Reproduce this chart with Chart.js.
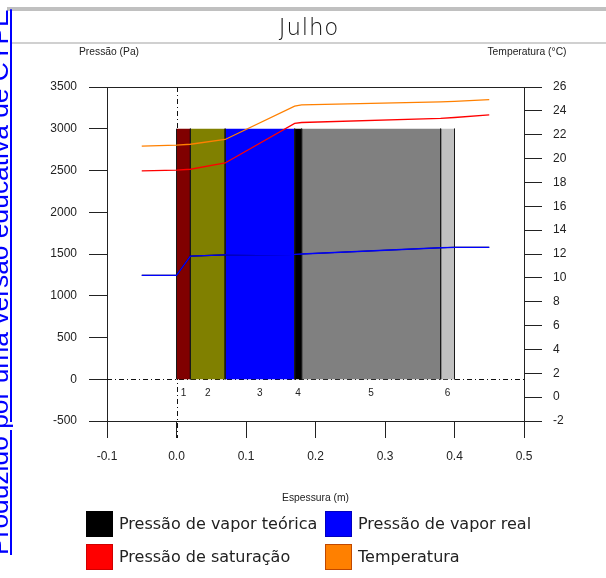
<!DOCTYPE html>
<html lang="pt">
<head>
<meta charset="UTF-8">
<title>Julho</title>
<script src="https://cdn.jsdelivr.net/npm/chart.js"></script>
<style>
    body {
        margin: 0;
        background: #fff;
        font-family: 'Liberation Sans', Arial, sans-serif;
        color: #222;
    }
    .page {
        position: relative;
        width: 606px;
        height: 578px;
        overflow: hidden;
    }
    #chart {
        position: absolute;
        left: 0;
        top: 0;
    }
    .topbar {
        position: absolute;
        left: 7px;
        top: 7px;
        width: 599px;
        height: 4px;
        background: #c0c0c0;
    }
    .titleline {
        position: absolute;
        left: 11px;
        top: 42px;
        width: 595px;
        height: 2px;
        background: #d0d0d0;
    }
    .title {
        position: absolute;
        left: 209px;
        top: 16px;
        width: 200px;
        text-align: center;
        font: 200 23px/23px 'DejaVu Sans', sans-serif;
        letter-spacing: 0.8px;
        color: #111;
    }
    .axis-title {
        position: absolute;
        top: 46px;
        width: 120px;
        text-align: center;
        font-size: 10.3px;
        line-height: 12px;
    }
    .watermark {
        position: absolute;
        left: 0;
        top: 0;
        transform-origin: 0 0;
        transform: translate(-14px, 555px) rotate(-90deg);
        font: 26.4px/26px 'Liberation Sans', Arial, sans-serif;
        white-space: nowrap;
        color: #0000ff;
        text-decoration: underline;
    }
    .legend {
        position: absolute;
        left: 86px;
        top: 511px;
        display: grid;
        grid-template-columns: 239px 239px;
        grid-auto-rows: 33px;
    }
    .legend-item {
        display: flex;
        align-items: flex-start;
        font: 16px/26px 'DejaVu Sans', sans-serif;
        color: #222;
        white-space: nowrap;
    }
    .legend-box {
        width: 27px;
        height: 26px;
        box-sizing: border-box;
        border: 1px solid;
        margin-right: 6px;
    }
</style>
</head>
<body>
<div class="page">
    <canvas id="chart" width="606" height="578"></canvas>
    <div class="topbar"></div>
    <div class="titleline"></div>
    <div class="title">Julho</div>
    <div class="axis-title" style="left:49px">Pressão (Pa)</div>
    <div class="axis-title" style="left:467px">Temperatura (°C)</div>
    <div class="watermark">Produzido por uma versão educativa de CYPE</div>
    <div class="legend" id="legend"></div>
</div>

<script>
    // positions along the wall (m) where the curves are sampled
    const thickness = [-0.05, 0, 0.02, 0.07, 0.17, 0.18, 0.38, 0.40, 0.45];

    // pressures (Pa)
    const vaporTheoretical = [1245, 1245, 1475, 1490, 1495, 1500, 1575, 1580, 1580];
    const vaporReal = [1245, 1245, 1475, 1490, 1495, 1500, 1575, 1580, 1580];
    const saturation = [2495, 2505, 2515, 2590, 3065, 3075, 3125, 3135, 3165];

    // temperature (°C)
    const temperature = [21.05, 21.13, 21.2, 21.6, 24.4, 24.5, 24.75, 24.8, 24.95];

    // wall layers
    const layerNames = ['1', '2', '3', '4', '5', '6'];
    const layerStart = [0, 0.02, 0.07, 0.17, 0.18, 0.38];
    const layerEnd = [0.02, 0.07, 0.17, 0.18, 0.38, 0.40];
    const layerTop = 3000;

    // axes
    const xTicks = [-0.1, 0, 0.1, 0.2, 0.3, 0.4, 0.5];
    const xTickLabels = ['-0.1', '0.0', '0.1', '0.2', '0.3', '0.4', '0.5'];
    const pressureTicks = [-500, 0, 500, 1000, 1500, 2000, 2500, 3000, 3500];
    const tempTicks = [-2, 0, 2, 4, 6, 8, 10, 12, 14, 16, 18, 20, 22, 24, 26];

    const seriesNames = ['Pressão de vapor teórica', 'Pressão de vapor real', 'Pressão de saturação', 'Temperatura'];

    const layerColors = ['#800000', '#808000', '#0000ff', '#000000', '#808080', '#c0c0c0'];
    const seriesColors = ['#000000', '#0000ff', '#ff0000', '#ff8000'];
    const boxBorders = ['#000000', '#0000c0', '#d00000', '#c04800'];

    const AXIS = '#222';
    const tickFont = { family: "'Liberation Sans', Arial, sans-serif", size: 12 };

    function points(values) {
        return values.map((v, i) => ({ x: thickness[i], y: v }));
    }

    function edgeColor(ticks) {
        return ctx => (ctx.index === 0 || ctx.index === ticks.length - 1) ? AXIS : 'rgba(0,0,0,0)';
    }

    function lineSet(label, values, color, width, axis) {
        return {
            label: label,
            data: points(values),
            borderColor: color,
            backgroundColor: color,
            borderWidth: width,
            pointRadius: 0,
            tension: 0,
            fill: false,
            yAxisID: axis
        };
    }

    // curves first so they are painted above the layers
    const datasets = [
        lineSet(seriesNames[3], temperature, seriesColors[3], 1.3, 'y2'),
        lineSet(seriesNames[2], saturation, seriesColors[2], 1.3, 'y'),
        lineSet(seriesNames[1], vaporReal, seriesColors[1], 1.3, 'y'),
        lineSet(seriesNames[0], vaporTheoretical, seriesColors[0], 1.1, 'y')
    ];

    layerNames.forEach((name, i) => {
        datasets.push({
            label: 'Camada ' + name,
            data: [
                { x: layerStart[i], y: 0 },
                { x: layerStart[i], y: layerTop },
                { x: layerEnd[i], y: layerTop },
                { x: layerEnd[i], y: 0 }
            ],
            backgroundColor: layerColors[i],
            borderColor: '#1a1a1a',
            borderWidth: 1,
            segment: {
                borderColor: ctx => ctx.p0.parsed.x === ctx.p1.parsed.x ? '#1a1a1a' : 'rgba(0,0,0,0)'
            },
            pointRadius: 0,
            fill: 'origin',
            yAxisID: 'y'
        });
    });

    // dashed origin lines and layer numbers
    const wallMarks = {
        id: 'wallMarks',
        beforeDatasetsDraw(chart) {
            const { ctx, chartArea, scales } = chart;
            const x0 = scales.x.getPixelForValue(0);
            const y0 = scales.y.getPixelForValue(0);
            ctx.save();
            ctx.strokeStyle = '#111';
            ctx.lineWidth = 1;
            ctx.setLineDash([5, 3, 1, 3]);
            ctx.beginPath();
            ctx.moveTo(Math.round(x0) + 0.5, chartArea.top);
            ctx.lineTo(Math.round(x0) + 0.5, chartArea.bottom + 17);
            ctx.moveTo(chartArea.left, Math.round(y0) + 0.5);
            ctx.lineTo(chartArea.right, Math.round(y0) + 0.5);
            ctx.stroke();
            ctx.restore();
        },
        afterDatasetsDraw(chart) {
            const { ctx, scales } = chart;
            const y = scales.y.getPixelForValue(0) + 14;
            ctx.save();
            ctx.fillStyle = '#222';
            ctx.font = "10px 'Liberation Sans', Arial, sans-serif";
            ctx.textAlign = 'center';
            ctx.textBaseline = 'middle';
            layerNames.forEach((name, i) => {
                const x = scales.x.getPixelForValue((layerStart[i] + layerEnd[i]) / 2);
                ctx.fillText(name, x, y);
            });
            ctx.restore();
        }
    };

    const chart = new Chart(document.getElementById('chart'), {
        type: 'line',
        data: { datasets: datasets },
        options: {
            responsive: false,
            animation: false,
            devicePixelRatio: 1,
            layout: { padding: { top: 87, bottom: 70, left: 0, right: 0 } },
            plugins: {
                legend: { display: false },
                tooltip: { enabled: false }
            },
            scales: {
                x: {
                    type: 'linear',
                    min: -0.1,
                    max: 0.5,
                    afterBuildTicks: s => { s.ticks = xTicks.map(v => ({ value: v })); },
                    afterFit: s => { s.height = 87; },
                    ticks: {
                        callback: (v, i) => xTickLabels[i],
                        font: tickFont,
                        color: AXIS,
                        padding: 11,
                        maxRotation: 0,
                        autoSkip: false
                    },
                    grid: { color: edgeColor(xTicks), tickColor: AXIS, tickLength: 17 },
                    border: { display: false },
                    title: {
                        display: true,
                        text: 'Espessura (m)',
                        color: AXIS,
                        font: { family: "'Liberation Sans', Arial, sans-serif", size: 10.3 },
                        padding: { top: 0, bottom: 4 }
                    }
                },
                y: {
                    position: 'left',
                    min: -500,
                    max: 3500,
                    afterBuildTicks: s => { s.ticks = pressureTicks.map(v => ({ value: v })); },
                    afterFit: s => { s.width = 107; },
                    ticks: { callback: v => String(v), font: tickFont, color: AXIS, padding: 12 },
                    grid: { color: edgeColor(pressureTicks), tickColor: AXIS, tickLength: 18 },
                    border: { color: AXIS }
                },
                y2: {
                    position: 'right',
                    min: -2,
                    max: 26,
                    afterBuildTicks: s => { s.ticks = tempTicks.map(v => ({ value: v })); },
                    afterFit: s => { s.width = 82; },
                    ticks: { callback: v => String(v), font: tickFont, color: AXIS, padding: 11 },
                    grid: { drawOnChartArea: false, tickColor: AXIS, tickLength: 18 },
                    border: { color: AXIS }
                }
            }
        },
        plugins: [wallMarks]
    });

    // legend in the reference order, two columns
    const legend = document.getElementById('legend');
    seriesNames.forEach((name, i) => {
        const ds = chart.data.datasets.find(d => d.label === name);
        const item = document.createElement('div');
        item.className = 'legend-item';
        const box = document.createElement('span');
        box.className = 'legend-box';
        box.style.background = ds.borderColor;
        box.style.borderColor = boxBorders[i];
        const text = document.createElement('span');
        text.textContent = name;
        item.appendChild(box);
        item.appendChild(text);
        legend.appendChild(item);
    });
</script>
</body>
</html>
